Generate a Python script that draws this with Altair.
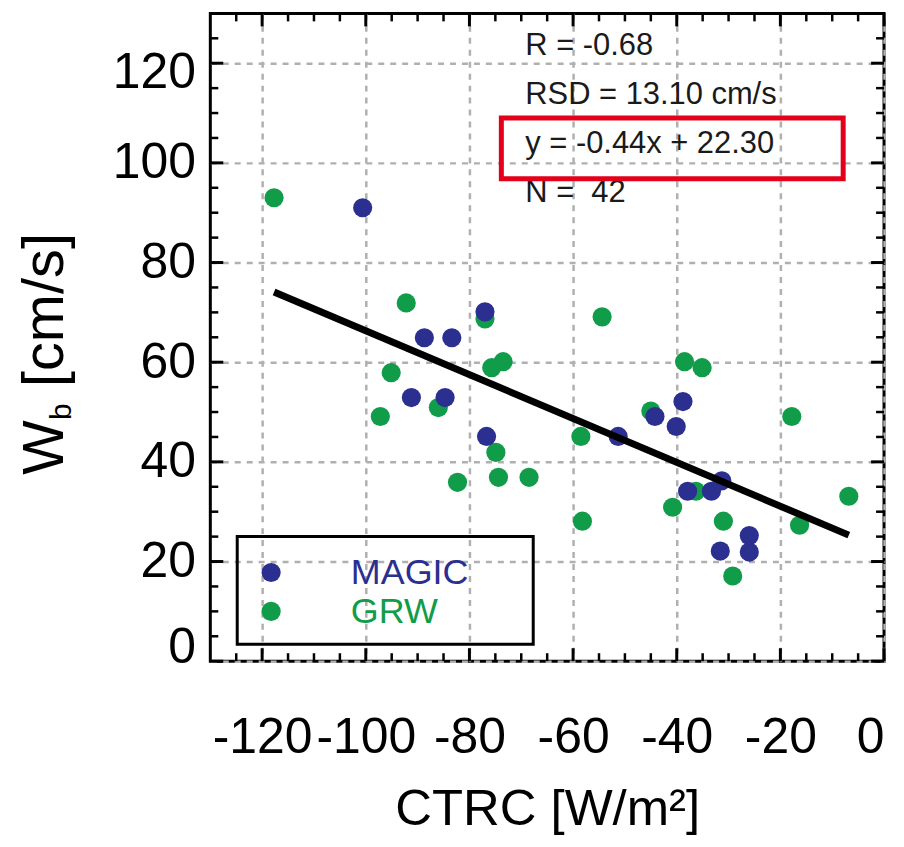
import altair as alt
import pandas as pd

FONT = "Liberation Sans"

series_names = ["MAGIC", "GRW"]
series_colors = ["#2B2F8F", "#119C4A"]

magic_ctrc = [-100.6, -77.0, -88.7, -83.4, -91.2, -84.7, -76.7, -51.3, -38.8, -44.2,
              -40.1, -31.3, -37.9, -33.3, -26.0, -26.0, -31.6]
magic_wb = [91.0, 70.1, 64.9, 64.9, 52.9, 52.9, 45.1, 45.1, 52.1, 49.1,
            47.1, 36.2, 34.1, 34.1, 25.2, 21.9, 22.1]
grw_ctrc = [-117.7, -92.2, -77.0, -75.7, -73.5, -95.1, -86.0, -97.2, -74.9, -82.3,
            -74.4, -68.5, -54.4, -38.5, -35.1, -45.0, -17.8, -58.5, -36.3, -40.8,
            -6.8, -58.2, -31.0, -16.3, -29.2]
grw_wb = [93.0, 71.9, 68.7, 58.9, 60.1, 57.9, 50.9, 49.1, 41.9, 35.9,
          36.9, 36.9, 69.1, 60.1, 58.9, 50.2, 49.1, 45.1, 34.1, 30.9,
          33.1, 28.1, 28.1, 27.3, 17.1]

fit_slope = -0.44
fit_intercept = 22.30
stats_lines = ["R = -0.68", "RSD = 13.10 cm/s", "y = -0.44x + 22.30", "N = \u00a042"]

x_major = [-120, -100, -80, -60, -40, -20, 0]
y_major = [0, 20, 40, 60, 80, 100, 120]
x_minor = [-125, -115, -110, -105, -95, -90, -85, -75, -70, -65, -55, -50, -45,
           -35, -30, -25, -15, -10, -5]
y_minor = [5, 10, 15, 25, 30, 35, 45, 50, 55, 65, 70, 75, 85, 90, 95, 105, 110, 115, 125]

# ---- tables ----
df = pd.concat([
    pd.DataFrame({"series": series_names[1], "x": grw_ctrc, "y": grw_wb}),
    pd.DataFrame({"series": series_names[0], "x": magic_ctrc, "y": magic_wb}),
], ignore_index=True)
df["order"] = range(len(df))

xmin, xmax = df["x"].min(), df["x"].max()
fit_df = pd.DataFrame({"x": [xmin, xmax],
                       "y": [fit_slope * xmin + fit_intercept, fit_slope * xmax + fit_intercept]})

xs = alt.Scale(domain=[-130, 0], nice=False, zero=False)
ys = alt.Scale(domain=[0, 130], nice=False, zero=False)

W, H = 676, 650
DOT = 370

points = alt.Chart(df).mark_circle(size=DOT, opacity=1).encode(
    x=alt.X("x:Q", scale=xs, axis=alt.Axis(
        orient="bottom", values=x_major, labelExpr="toString(datum.value)",
        labelFontSize=50, labelFont=FONT, labelColor="black",
        labelPadding=52, ticks=False, tickSize=0, domain=False, grid=True, gridDash=[6, 6],
        gridColor="#B0B0B0", gridWidth=2.5, labelAngle=0, labelOverlap=False,
        title="CTRC [W/m²]", titleFont=FONT, titleFontSize=51, titleFontWeight="normal",
        titleColor="black", titlePadding=22)),
    y=alt.Y("y:Q", scale=ys, axis=alt.Axis(
        orient="left", values=y_major, labelFontSize=50, labelFont=FONT, labelColor="black",
        labelPadding=15, ticks=False, tickSize=0, domain=False, grid=True, gridDash=[6, 6],
        gridColor="#B0B0B0", gridWidth=2.5, labelOverlap=False, title=None,
        labelOffset={"condition": [{"test": "datum.value == 0", "value": -14},
                                   {"test": "datum.value == 120", "value": 9}],
                     "value": 0})),
    color=alt.Color("series:N", scale=alt.Scale(domain=series_names, range=series_colors), legend=None),
    order=alt.Order("order:Q"),
)


def hticks(vals, y0, y1, width):
    return alt.Chart(pd.DataFrame({"v": vals})).mark_rule(color="black", strokeWidth=width).encode(
        x=alt.X("v:Q", scale=xs, axis=None), y=alt.value(y0), y2=alt.value(y1))


def vticks(vals, x0, x1, width):
    return alt.Chart(pd.DataFrame({"v": vals})).mark_rule(color="black", strokeWidth=width).encode(
        y=alt.Y("v:Q", scale=ys, axis=None), x=alt.value(x0), x2=alt.value(x1))


MAJ, MIN = 13, 8
ticks = [
    hticks(x_major, H, H - MAJ, 3), hticks(x_minor, H, H - MIN, 2.5),
    hticks(x_major, 0, MAJ, 3), hticks(x_minor, 0, MIN, 2.5),
    vticks(y_major, 0, MAJ, 3), vticks(y_minor, 0, MIN, 2.5),
    vticks(y_major, W, W - MAJ, 3), vticks(y_minor, W, W - MIN, 2.5),
]

fit_line = alt.Chart(fit_df).mark_line(color="black", strokeWidth=7, strokeCap="butt").encode(
    x=alt.X("x:Q", scale=xs, axis=None),
    y=alt.Y("y:Q", scale=ys, axis=None),
)

one = pd.DataFrame({"k": [0]})

stats = [
    alt.Chart(one).mark_text(text=t, align="left", baseline="middle", font=FONT,
                             fontSize=31, color="#1a1a1a").encode(
        x=alt.value(316), y=alt.value(33 + 49 * i))
    for i, t in enumerate(stats_lines)
]

red_box = alt.Chart(one).mark_rect(fillOpacity=0, stroke="#E3001B", strokeWidth=5).encode(
    x=alt.value(292), x2=alt.value(635), y=alt.value(105), y2=alt.value(166))

legend_box = alt.Chart(one).mark_rect(fillOpacity=0, stroke="black", strokeWidth=3).encode(
    x=alt.value(27), x2=alt.value(324), y=alt.value(525), y2=alt.value(633))

legend_items = []
for i, (name, col) in enumerate(zip(series_names, series_colors)):
    legend_items.append(alt.Chart(one).mark_circle(size=DOT, opacity=1, color=col).encode(
        x=alt.value(61), y=alt.value(561 + 39 * i)))
    legend_items.append(alt.Chart(one).mark_text(text=name, align="left", baseline="middle",
                                                 font=FONT, fontSize=36, color=col).encode(
        x=alt.value(141), y=alt.value(562 + 39 * i)))

YT = 58
ytitle = [
    alt.Chart(one).mark_text(text="W", angle=270, align="left", baseline="alphabetic",
                             font=FONT, fontSize=YT, color="black").encode(
        x=alt.value(-148), y=alt.value(463)),
    alt.Chart(one).mark_text(text="b", angle=270, align="left", baseline="alphabetic",
                             font=FONT, fontSize=30, color="black").encode(
        x=alt.value(-140), y=alt.value(408)),
    alt.Chart(one).mark_text(text="[cm/s]", angle=270, align="left", baseline="alphabetic",
                             font=FONT, fontSize=YT, color="black").encode(
        x=alt.value(-148), y=alt.value(375)),
]

chart = alt.layer(
    points, *ticks, fit_line, *stats, red_box, legend_box, *legend_items, *ytitle
).resolve_axis(x="independent", y="independent").properties(
    width=W, height=H,
    padding={"left": 203, "top": 4, "right": 12, "bottom": 175},
    autosize=alt.AutoSizeParams(type="none"),
    background="white",
).configure_view(stroke="black", strokeWidth=3)

chart.save("out.html", embed_options={"renderer": "svg", "actions": False})
